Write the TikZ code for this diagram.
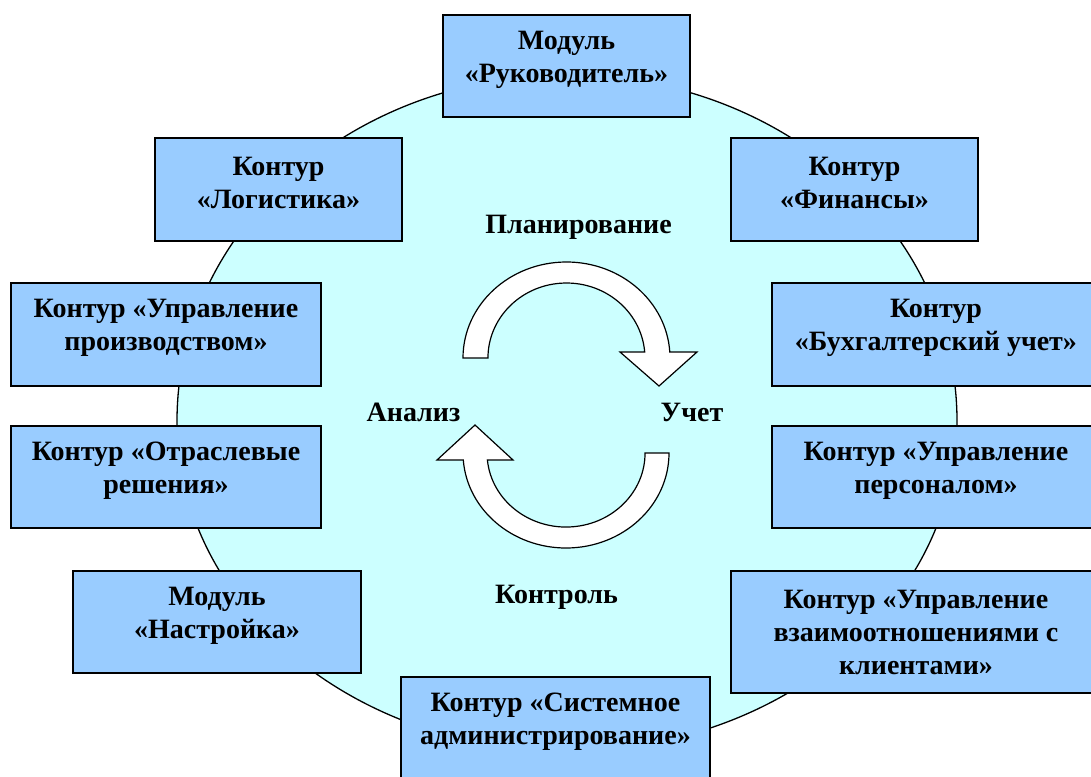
\documentclass[tikz,border=0pt]{standalone}
\usepackage{fontspec}
\setmainfont{Liberation Serif}
\definecolor{boxblue}{HTML}{99CCFF}
\definecolor{circ}{HTML}{CCFFFF}
\begin{document}
\begin{tikzpicture}[x=1pt,y=-1pt,
  box/.style={draw=black, line width=1.3pt, fill=boxblue, inner sep=0pt},
  txt/.style={align=center, font=\fontsize{28}{33}\selectfont\bfseries, inner sep=0pt},
  lbl/.style={font=\fontsize{28}{30}\selectfont\bfseries, inner sep=0pt},
  arr/.style={draw=black, line width=1.2pt, fill=white, line join=miter}]
\useasboundingbox (0,0) rectangle (1091,776);
\clip (0,0) rectangle (1091,776);
% big circle
\draw[line width=1.3pt, fill=circ] (177,421)
  arc[start angle=180, end angle=0, x radius=390pt, y radius=346pt]
  arc[start angle=360, end angle=180, x radius=390pt, y radius=330pt] -- cycle;
% cycle arrows
\draw[arr] (463,358) arc[start angle=180, end angle=3.58, x radius=103.5pt, y radius=96pt]
  -- (697,352) -- (659,386) -- (620,352) -- (644.7,352)
  arc[start angle=4.59, end angle=180, x radius=78.5pt, y radius=75pt] -- cycle;
\draw[arr] (669,453) arc[start angle=0, end angle=-175.8, x radius=103pt, y radius=95pt]
  -- (437,460) -- (475,425) -- (513,460) -- (487.4,460)
  arc[start angle=-174.6, end angle=0, x radius=79pt, y radius=74pt] -- cycle;
% cycle labels
\node[lbl] (plan) at (578.5,227) {Планирование};
\node[lbl] (anal) at (413.5,412) {Анализ};
\node[lbl] (uchet) at (692,412) {Учет};
\node[lbl] (kontr) at (556.5,597) {Контроль};
% boxes
\node[box, minimum width=247pt, minimum height=102pt] (ruk) at (566.5,66) {};
\node[txt] (truk) at (566.5,59.5) {Модуль\\«Руководитель»};
\node[box, minimum width=247pt, minimum height=103pt] (log) at (278.5,189.5) {};
\node[txt] (tlog) at (278.5,182.5) {Контур\\«Логистика»};
\node[box, minimum width=247pt, minimum height=103pt] (fin) at (854.5,189.5) {};
\node[txt] (tfin) at (854.5,182.5) {Контур\\«Финансы»};
\node[box, minimum width=310pt, minimum height=103pt] (proizv) at (166,334.5) {};
\node[txt] (tproizv) at (166,327.5) {Контур «Управление\\производством»};
\node[box, minimum width=328pt, minimum height=103pt] (buh) at (936,334.5) {};
\node[txt] (tbuh) at (936,327.5) {Контур\\«Бухгалтерский учет»};
\node[box, minimum width=310pt, minimum height=102pt] (otr) at (166,477) {};
\node[txt] (totr) at (166,470.5) {Контур «Отраслевые\\решения»};
\node[box, minimum width=328pt, minimum height=102pt] (pers) at (936,477) {};
\node[txt] (tpers) at (936,470.5) {Контур «Управление\\персоналом»};
\node[box, minimum width=288pt, minimum height=102pt] (nastr) at (217,622) {};
\node[txt] (tnastr) at (217,615.5) {Модуль\\«Настройка»};
\node[box, minimum width=370pt, minimum height=122pt] (klient) at (916,632) {};
\node[txt] (tklient) at (916,632) {Контур «Управление\\взаимоотношениями с\\клиентами»};
\node[box, minimum width=309pt, minimum height=110pt] (sys) at (555.5,732) {};
\node[txt] (tsys) at (555.5,721.5) {Контур «Системное\\администрирование»};
\end{tikzpicture}
\end{document}
